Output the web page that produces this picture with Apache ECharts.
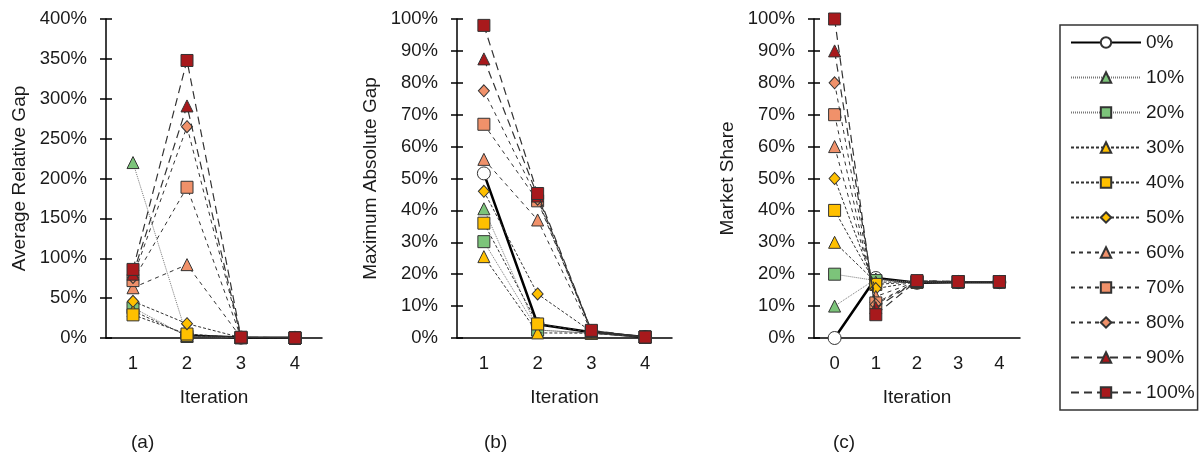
<!DOCTYPE html>
<html>
<head>
<meta charset="utf-8">
<script src="https://cdn.jsdelivr.net/npm/echarts@6/dist/echarts.min.js"></script>
<style>
  html, body { margin: 0; padding: 0; background: #fff; }
  #chart { width: 1201px; height: 464px; }
</style>
</head>
<body>
<div id="chart"></div>
<script>
// Iteration categories
const iterCats = ['1', '2', '3', '4'];
const iterCatsShare = ['0', '1', '2', '3', '4'];

// Scenario names (initial market share of the entrant)
const scenarioNames = ['0%', '10%', '20%', '30%', '40%', '50%', '60%', '70%', '80%', '90%', '100%'];

// Average relative gap (%), iterations 1-4
const avgGap0   = [null, 3, 0.5, 0.2];
const avgGap10  = [220, 2, 0.5, 0.1];
const avgGap20  = [38, 2, 0.5, 0.1];
const avgGap30  = [34, 3, 0.5, 0.1];
const avgGap40  = [29, 5, 0.5, 0.1];
const avgGap50  = [46, 18, 0.5, 0.1];
const avgGap60  = [63, 92, 0.5, 0.1];
const avgGap70  = [72, 189, 0.6, 0.1];
const avgGap80  = [76, 265, 0.7, 0.1];
const avgGap90  = [80, 291, 0.8, 0.2];
const avgGap100 = [86, 348, 1, 0.2];

// Maximum absolute gap (%), iterations 1-4
const maxGap0   = [51.6, 4.3, 1.8, 0.3];
const maxGap10  = [40.5, 2.5, 1.5, 0.3];
const maxGap20  = [30.2, 2.5, 1.5, 0.3];
const maxGap30  = [25.5, 1.6, 1.5, 0.3];
const maxGap40  = [36, 4.4, 1.8, 0.3];
const maxGap50  = [46, 13.8, 2, 0.3];
const maxGap60  = [56, 37, 2, 0.3];
const maxGap70  = [67, 43, 2.2, 0.3];
const maxGap80  = [77.5, 43.5, 2.2, 0.3];
const maxGap90  = [87.5, 44.5, 2.3, 0.3];
const maxGap100 = [98, 45.3, 2.4, 0.3];

// Market share (%), iterations 0-4
const share0   = [0, 18.8, 17.3, 17.5, 17.5];
const share10  = [10, 18.5, 17.5, 17.6, 17.6];
const share20  = [20, 18, 17.5, 17.6, 17.6];
const share30  = [30, 17.5, 17.5, 17.6, 17.6];
const share40  = [40, 16.8, 17.6, 17.6, 17.6];
const share50  = [50, 15.5, 17.6, 17.6, 17.6];
const share60  = [60, 13, 17.7, 17.6, 17.6];
const share70  = [70, 11, 17.7, 17.7, 17.7];
const share80  = [80, 10.5, 17.8, 17.7, 17.7];
const share90  = [90, 9.5, 17.9, 17.7, 17.7];
const share100 = [100, 7.3, 18, 17.7, 17.7];

const avgGapData = [avgGap0, avgGap10, avgGap20, avgGap30, avgGap40, avgGap50, avgGap60, avgGap70, avgGap80, avgGap90, avgGap100];
const maxGapData = [maxGap0, maxGap10, maxGap20, maxGap30, maxGap40, maxGap50, maxGap60, maxGap70, maxGap80, maxGap90, maxGap100];
const shareData  = [share0, share10, share20, share30, share40, share50, share60, share70, share80, share90, share100];

// Visual style per scenario
const GREEN = '#7cc47a', GOLD = '#ffc000', SALMON = '#f0916a', CRIMSON = '#a8191c';
const styles = [
  { symbol: 'circle',   size: 13, fill: '#ffffff', line: { color: '#000', width: 2.5, type: 'solid' } },
  { symbol: 'triangle', size: 12, fill: GREEN,   line: { color: '#777', width: 1, type: [1, 1] } },
  { symbol: 'rect',     size: 12, fill: GREEN,   line: { color: '#777', width: 1, type: [1, 1] } },
  { symbol: 'triangle', size: 12, fill: GOLD,    line: { color: '#333', width: 1, type: [3, 2] } },
  { symbol: 'rect',     size: 12, fill: GOLD,    line: { color: '#333', width: 1, type: [3, 2] } },
  { symbol: 'diamond',  size: [11, 12], fill: GOLD, line: { color: '#333', width: 1, type: [3, 2] } },
  { symbol: 'triangle', size: 12, fill: SALMON,  line: { color: '#333', width: 1, type: [4, 4] } },
  { symbol: 'rect',     size: 12, fill: SALMON,  line: { color: '#333', width: 1, type: [4, 4] } },
  { symbol: 'diamond',  size: [11, 12], fill: SALMON, line: { color: '#333', width: 1, type: [4, 4] } },
  { symbol: 'triangle', size: 12, fill: CRIMSON, line: { color: '#333', width: 1.2, type: [8, 5] } },
  { symbol: 'rect',     size: 12, fill: CRIMSON, line: { color: '#333', width: 1.2, type: [8, 5] } }
];

const FONT = '"Liberation Sans", Arial, sans-serif';
const TXT = '#1a1a1a';

const grids = [
  { left: 106, top: 19, width: 216, height: 319 },
  { left: 457, top: 19, width: 215, height: 319 },
  { left: 814, top: 19, width: 206, height: 319 }
];

function xAxisFor(gridIndex, cats) {
  return {
    type: 'category', gridIndex, data: cats, boundaryGap: true,
    name: 'Iteration', nameLocation: 'middle', nameGap: 50,
    nameTextStyle: { fontFamily: FONT, fontSize: 19, color: TXT },
    axisLine: { lineStyle: { color: '#000', width: 1.5 } },
    axisTick: { show: false },
    axisLabel: { fontFamily: FONT, fontSize: 18.5, color: TXT, margin: 16 },
    splitLine: { show: false }
  };
}

function yAxisPair(gridIndex, max, interval, name) {
  return [
    {
      type: 'value', gridIndex, min: 0, max, interval, position: 'left',
      name, nameLocation: 'middle', nameGap: 77, nameRotate: 90,
      nameTextStyle: { fontFamily: FONT, fontSize: 19, color: TXT },
      axisLine: { show: true, lineStyle: { color: '#000', width: 1.5 } },
      axisTick: { show: true, inside: false, length: 6, lineStyle: { color: '#000', width: 1.5 } },
      axisLabel: { fontFamily: FONT, fontSize: 18.5, color: TXT, margin: 19, formatter: '{value}%' },
      splitLine: { show: false }
    },
    {
      type: 'value', gridIndex, min: 0, max, interval, position: 'left',
      axisLine: { show: false },
      axisTick: { show: true, inside: true, length: 6, lineStyle: { color: '#000', width: 1.5 } },
      axisLabel: { show: false },
      splitLine: { show: false }
    }
  ];
}

const series = [];
function addPanel(dataSets, xIdx, yIdx) {
  dataSets.forEach((values, i) => {
    const st = styles[i];
    series.push({
      name: scenarioNames[i], type: 'line', xAxisIndex: xIdx, yAxisIndex: yIdx,
      data: values, symbol: st.symbol, symbolSize: st.size, showAllSymbol: true,
      connectNulls: false, animation: false, silent: true,
      lineStyle: st.line,
      itemStyle: { color: st.fill, borderColor: '#333', borderWidth: 1 },
      z: 2 + i
    });
  });
}
addPanel(avgGapData, 0, 0);
addPanel(maxGapData, 1, 2);
addPanel(shareData, 2, 4);

const option = {
  backgroundColor: '#fff',
  animation: false,
  grid: grids,
  xAxis: [xAxisFor(0, iterCats), xAxisFor(1, iterCats), xAxisFor(2, iterCatsShare)],
  yAxis: [
    ...yAxisPair(0, 400, 50, 'Average Relative Gap'),
    ...yAxisPair(1, 100, 10, 'Maximum Absolute Gap'),
    ...yAxisPair(2, 100, 10, 'Market Share')
  ],
  legend: {
    orient: 'vertical', left: 1060, top: 25,
    data: scenarioNames,
    itemWidth: 70, itemHeight: 13, itemGap: 16,
    padding: [8, 3, 8, 10],
    borderColor: '#333', borderWidth: 1.5,
    selectedMode: false,
    textStyle: { fontFamily: FONT, fontSize: 19, color: TXT }
  },
  graphic: [
    { type: 'text', left: 131, top: 433, style: { text: '(a)', font: '19px ' + FONT, fill: TXT } },
    { type: 'text', left: 484, top: 433, style: { text: '(b)', font: '19px ' + FONT, fill: TXT } },
    { type: 'text', left: 833, top: 433, style: { text: '(c)', font: '19px ' + FONT, fill: TXT } }
  ],
  series
};

const chart = echarts.init(document.getElementById('chart'), null, { renderer: 'canvas' });
chart.setOption(option);
</script>
</body>
</html>
